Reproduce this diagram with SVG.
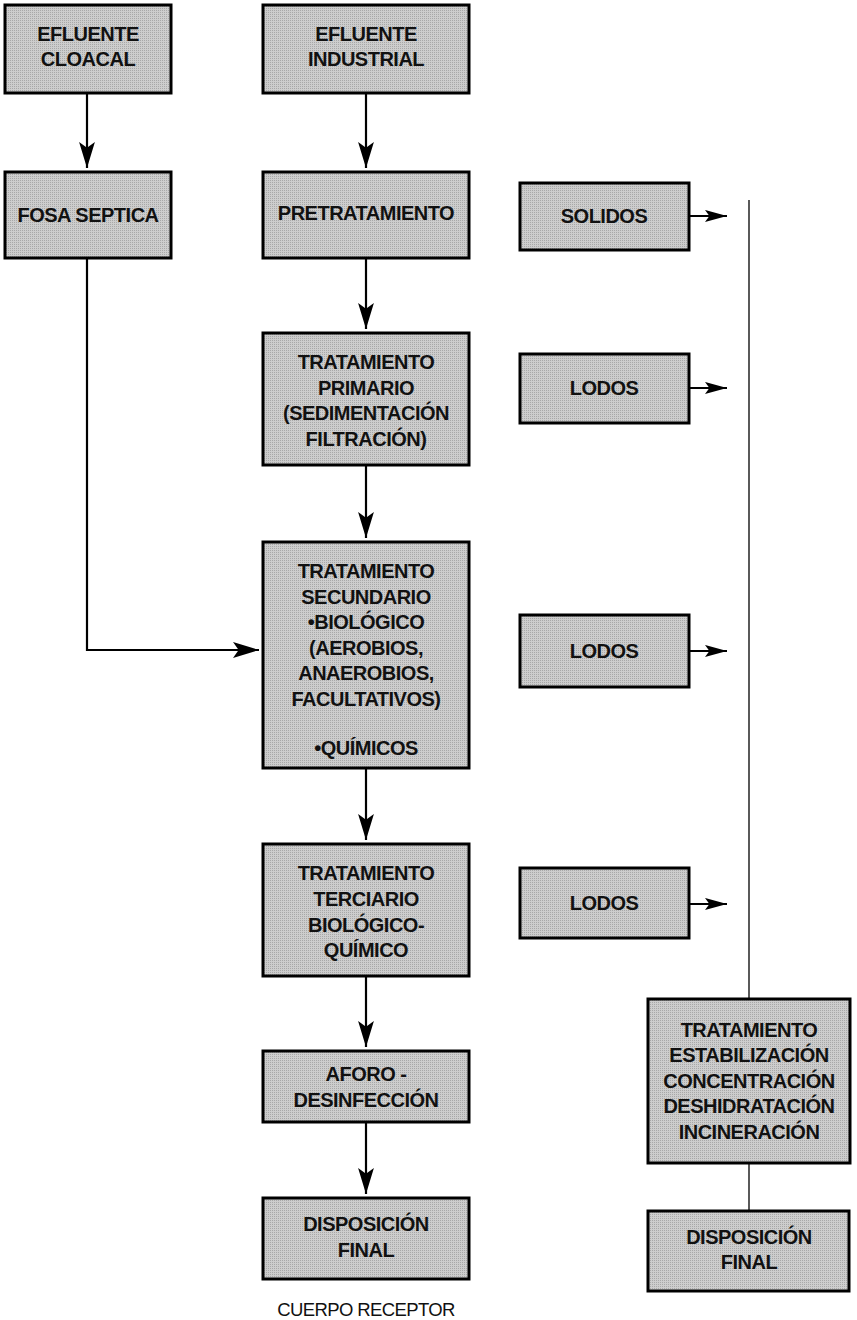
<svg xmlns="http://www.w3.org/2000/svg" width="857" height="1320" viewBox="0 0 857 1320">
<defs>
<style>
.box{fill:url(#ht);stroke:#000;stroke-width:3}
.t{font-family:"Liberation Sans",Arial,sans-serif;font-weight:bold;font-size:20px;letter-spacing:-0.5px;fill:#111;text-anchor:middle}
.r{font-family:"Liberation Sans",Arial,sans-serif;font-size:18.5px;letter-spacing:-0.6px;fill:#111;text-anchor:middle}
.ln{fill:none;stroke:#000;stroke-width:2.2}
.thin{fill:none;stroke:#000;stroke-width:1.3}
</style>
<pattern id="ht" patternUnits="userSpaceOnUse" width="2" height="2">
<rect width="2" height="2" fill="#cdcdcd"/>
<rect width="1" height="1" fill="#a8a8a8"/>
</pattern>
<marker id="ah" markerUnits="userSpaceOnUse" markerWidth="26" markerHeight="16" refX="23" refY="7" orient="auto" viewBox="0 0 23 14">
<path d="M0,0 L23,7 L0,14 L5,7 Z" fill="#000"/>
</marker>
<marker id="ahs" markerUnits="userSpaceOnUse" markerWidth="22" markerHeight="13" refX="20" refY="5.5" orient="auto" viewBox="0 0 20 11">
<path d="M0,0 L20,5.5 L0,11 L4,5.5 Z" fill="#000"/>
</marker>
</defs>
<rect width="857" height="1320" fill="#fff"/>
<g id="connectors">
<line class="ln" x1="87" y1="93" x2="87" y2="168" marker-end="url(#ah)"/>
<line class="ln" x1="366" y1="93" x2="366" y2="168" marker-end="url(#ah)"/>
<polyline class="ln" points="87,258 87,650 259,650" marker-end="url(#ah)"/>
<line class="ln" x1="366" y1="258" x2="366" y2="329" marker-end="url(#ah)"/>
<line class="ln" x1="366" y1="465" x2="366" y2="538" marker-end="url(#ah)"/>
<line class="ln" x1="366" y1="768" x2="366" y2="840" marker-end="url(#ah)"/>
<line class="ln" x1="366" y1="976" x2="366" y2="1047" marker-end="url(#ah)"/>
<line class="ln" x1="366" y1="1122" x2="366" y2="1194" marker-end="url(#ah)"/>
<line class="ln" x1="689" y1="216" x2="727" y2="216" marker-end="url(#ahs)"/>
<line class="ln" x1="689" y1="388" x2="727" y2="388" marker-end="url(#ahs)"/>
<line class="ln" x1="689" y1="651" x2="727" y2="651" marker-end="url(#ahs)"/>
<line class="ln" x1="689" y1="904" x2="727" y2="904" marker-end="url(#ahs)"/>
<line class="thin" x1="749" y1="200" x2="749" y2="999"/>
<line class="thin" x1="749" y1="1163" x2="749" y2="1211"/>
</g>
<g id="efluente-cloacal">
<rect class="box" x="5" y="5" width="166" height="88"/>
<text class="t" x="88" y="41">EFLUENTE</text>
<text class="t" x="88" y="66">CLOACAL</text>
</g>
<g id="efluente-industrial">
<rect class="box" x="263" y="5" width="206" height="88"/>
<text class="t" x="366" y="41">EFLUENTE</text>
<text class="t" x="366" y="66">INDUSTRIAL</text>
</g>
<g id="fosa-septica">
<rect class="box" x="5" y="172" width="166" height="86"/>
<text class="t" x="88" y="222">FOSA SEPTICA</text>
</g>
<g id="pretratamiento">
<rect class="box" x="263" y="172" width="206" height="86"/>
<text class="t" x="366" y="220">PRETRATAMIENTO</text>
</g>
<g id="solidos">
<rect class="box" x="520" y="183" width="169" height="67"/>
<text class="t" x="604" y="223">SOLIDOS</text>
</g>
<g id="tratamiento-primario">
<rect class="box" x="263" y="333" width="206" height="132"/>
<text class="t" x="366" y="369">TRATAMIENTO</text>
<text class="t" x="366" y="395">PRIMARIO</text>
<text class="t" x="366" y="420">(SEDIMENTACIÓN</text>
<text class="t" x="366" y="446">FILTRACIÓN)</text>
</g>
<g id="lodos-1">
<rect class="box" x="520" y="354" width="169" height="69"/>
<text class="t" x="604" y="395">LODOS</text>
</g>
<g id="tratamiento-secundario">
<rect class="box" x="263" y="542" width="206" height="226"/>
<text class="t" x="366" y="578">TRATAMIENTO</text>
<text class="t" x="366" y="604">SECUNDARIO</text>
<text class="t" x="366" y="629">•BIOLÓGICO</text>
<text class="t" x="366" y="655">(AEROBIOS,</text>
<text class="t" x="366" y="680">ANAEROBIOS,</text>
<text class="t" x="366" y="706">FACULTATIVOS)</text>
<text class="t" x="366" y="755">•QUÍMICOS</text>
</g>
<g id="lodos-2">
<rect class="box" x="520" y="615" width="169" height="72"/>
<text class="t" x="604" y="658">LODOS</text>
</g>
<g id="tratamiento-terciario">
<rect class="box" x="263" y="844" width="206" height="132"/>
<text class="t" x="366" y="880">TRATAMIENTO</text>
<text class="t" x="366" y="906">TERCIARIO</text>
<text class="t" x="366" y="932">BIOLÓGICO-</text>
<text class="t" x="366" y="957">QUÍMICO</text>
</g>
<g id="lodos-3">
<rect class="box" x="520" y="868" width="169" height="70"/>
<text class="t" x="604" y="910">LODOS</text>
</g>
<g id="aforo-desinfeccion">
<rect class="box" x="263" y="1051" width="206" height="71"/>
<text class="t" x="366" y="1081">AFORO -</text>
<text class="t" x="366" y="1107">DESINFECCIÓN</text>
</g>
<g id="disposicion-final-1">
<rect class="box" x="263" y="1198" width="206" height="81"/>
<text class="t" x="366" y="1231">DISPOSICIÓN</text>
<text class="t" x="366" y="1257">FINAL</text>
</g>
<g id="cuerpo-receptor">
<text class="r" x="366" y="1316">CUERPO RECEPTOR</text>
</g>
<g id="tratamiento-lodos">
<rect class="box" x="648" y="999" width="202" height="164"/>
<text class="t" x="749" y="1037">TRATAMIENTO</text>
<text class="t" x="749" y="1062">ESTABILIZACIÓN</text>
<text class="t" x="749" y="1088">CONCENTRACIÓN</text>
<text class="t" x="749" y="1113">DESHIDRATACIÓN</text>
<text class="t" x="749" y="1139">INCINERACIÓN</text>
</g>
<g id="disposicion-final-2">
<rect class="box" x="648" y="1211" width="201" height="80"/>
<text class="t" x="749" y="1244">DISPOSICIÓN</text>
<text class="t" x="749" y="1269">FINAL</text>
</g>
</svg>
